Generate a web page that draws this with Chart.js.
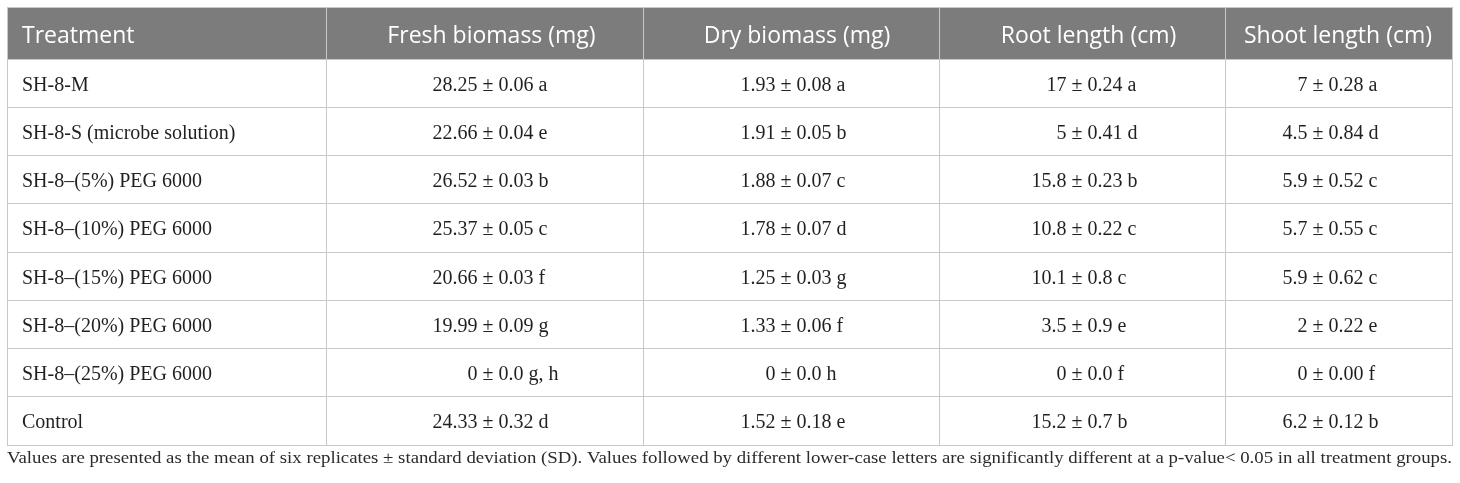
<!DOCTYPE html>
<html lang="en">
<head>
<meta charset="UTF-8">
<title>Effect of SH-8 treatments on seedling growth</title>
<script src="https://cdn.jsdelivr.net/npm/chart.js@4"></script>
<style>
  html, body { margin: 0; padding: 0; background: #fff; }
  #wrap { width: 1460px; height: 483px; }
</style>
</head>
<body>
<div id="wrap"><canvas id="tbl"></canvas></div>
<script>
// table contents
const headers = ['Treatment', 'Fresh biomass (mg)', 'Dry biomass (mg)', 'Root length (cm)', 'Shoot length (cm)'];
const treatments = ['SH-8-M', 'SH-8-S (microbe solution)', 'SH-8\u2013(5%) PEG 6000', 'SH-8\u2013(10%) PEG 6000',
                    'SH-8\u2013(15%) PEG 6000', 'SH-8\u2013(20%) PEG 6000', 'SH-8\u2013(25%) PEG 6000', 'Control'];

const freshMean = ['28.25', '22.66', '26.52', '25.37', '20.66', '19.99', '0', '24.33'];
const freshSD   = ['0.06', '0.04', '0.03', '0.05', '0.03', '0.09', '0.0', '0.32'];
const freshSig  = ['a', 'e', 'b', 'c', 'f', 'g', 'g, h', 'd'];

const dryMean = ['1.93', '1.91', '1.88', '1.78', '1.25', '1.33', '0', '1.52'];
const drySD   = ['0.08', '0.05', '0.07', '0.07', '0.03', '0.06', '0.0', '0.18'];
const drySig  = ['a', 'b', 'c', 'd', 'g', 'f', 'h', 'e'];

const rootMean = ['17', '5', '15.8', '10.8', '10.1', '3.5', '0', '15.2'];
const rootSD   = ['0.24', '0.41', '0.23', '0.22', '0.8', '0.9', '0.0', '0.7'];
const rootSig  = ['a', 'd', 'b', 'c', 'c', 'e', 'f', 'b'];

const shootMean = ['7', '4.5', '5.9', '5.7', '5.9', '2', '0', '6.2'];
const shootSD   = ['0.28', '0.84', '0.52', '0.55', '0.62', '0.22', '0.00', '0.12'];
const shootSig  = ['a', 'd', 'c', 'c', 'c', 'e', 'f', 'b'];

const footnote = 'Values are presented as the mean of six replicates \u00b1 standard deviation (SD). ' +
  'Values followed by different lower-case letters are significantly different at a p-value< 0.05 in all treatment groups.';

// layout in table units
const colEdges = [0, 319, 636, 932, 1218, 1445];
const headerX = [15, 484.5, 790, 1081.5, 1331];
const pmX = [481, 779, 1070, 1311];   // where the ± sign sits in each value column
const nameX = 15;
const headerH = 52, rowH = 48.25;
const rowEdges = [0, headerH].concat(treatments.map((t, i) => headerH + rowH * (i + 1)));
const rowMid = i => headerH + rowH * (i + 0.5);

const SERIF = '"Liberation Serif", "Times New Roman", serif';
const SANS = '"Open Sans", "Noto Sans", sans-serif';

const valueCols = [
  [freshMean, freshSD, freshSig],
  [dryMean, drySD, drySig],
  [rootMean, rootSD, rootSig],
  [shootMean, shootSD, shootSig]
];

const datasets = [
  { role: 'header', data: headers.map((h, i) => ({ x: headerX[i], y: headerH / 2, text: h, left: i === 0 })) },
  { role: 'name', data: treatments.map((t, i) => ({ x: nameX, y: rowMid(i), text: t })) }
].concat(valueCols.map((c, k) => ({
  role: 'value',
  data: c[0].map((m, i) => ({ x: pmX[k], y: rowMid(i), mean: m, sd: c[1][i], sig: c[2][i] }))
})));
datasets.forEach(d => { d.pointRadius = 0; d.pointHoverRadius = 0; d.showLine = false; });

const tablePlugin = {
  id: 'tableCells',
  beforeDraw(chart) {
    const { ctx, chartArea } = chart;
    const y = chart.scales.y;
    ctx.save();
    ctx.fillStyle = '#7c7c7c';
    ctx.fillRect(chartArea.left, y.getPixelForValue(0), chartArea.right - chartArea.left,
                 y.getPixelForValue(headerH) - y.getPixelForValue(0));
    ctx.restore();
  },
  afterDatasetsDraw(chart) {
    const { ctx, chartArea } = chart;
    ctx.save();
    chart.data.datasets.forEach((ds, di) => {
      const meta = chart.getDatasetMeta(di);
      meta.data.forEach((pt, j) => {
        const raw = ds.data[j];
        if (ds.role === 'header') {
          ctx.font = '23px ' + SANS;
          ctx.fillStyle = '#ffffff';
          ctx.textAlign = raw.left ? 'left' : 'center';
          ctx.textBaseline = 'alphabetic';
          ctx.fillText(raw.text, pt.x, pt.y + 10);
        } else if (ds.role === 'name') {
          ctx.font = '20px ' + SERIF;
          ctx.fillStyle = '#231f20';
          ctx.textAlign = 'left';
          ctx.textBaseline = 'alphabetic';
          ctx.fillText(raw.text, pt.x, pt.y + 7.5);
        } else {
          ctx.font = '20px ' + SERIF;
          ctx.fillStyle = '#231f20';
          ctx.textBaseline = 'alphabetic';
          const half = ctx.measureText('\u00b1').width / 2;
          const by = pt.y + 7.5;
          ctx.textAlign = 'right';
          ctx.fillText(raw.mean + ' ', pt.x - half, by);
          ctx.textAlign = 'center';
          ctx.fillText('\u00b1', pt.x, by);
          ctx.textAlign = 'left';
          ctx.fillText(' ' + raw.sd + ' ' + raw.sig, pt.x + half, by);
        }
      });
    });

    // footnote under the table, fitted to its width
    ctx.font = '16.5px ' + SERIF;
    ctx.fillStyle = '#2b2b2b';
    ctx.textAlign = 'left';
    ctx.textBaseline = 'alphabetic';
    const w = ctx.measureText(footnote).width;
    const avail = chartArea.right - chartArea.left;
    const sx = Math.min(1.15, Math.max(0.8, avail / w));
    ctx.translate(chartArea.left, chartArea.bottom + 18);
    ctx.scale(sx, 1);
    ctx.fillText(footnote, 0, 0);
    ctx.restore();
  }
};

const gridOpts = { color: '#c8c8c8', lineWidth: 1, drawTicks: false };

new Chart(document.getElementById('tbl'), {
  type: 'scatter',
  data: { datasets: datasets },
  options: {
    responsive: true,
    maintainAspectRatio: false,
    animation: false,
    events: [],
    layout: { padding: { left: 7, right: 8, top: 7, bottom: 38 } },
    plugins: { legend: { display: false }, tooltip: { enabled: false } },
    scales: {
      x: {
        type: 'linear', min: 0, max: colEdges[colEdges.length - 1],
        afterBuildTicks: s => { s.ticks = colEdges.map(v => ({ value: v })); },
        grid: gridOpts,
        border: { display: true, color: '#c8c8c8' },
        ticks: { display: false }
      },
      y: {
        type: 'linear', reverse: true, min: 0, max: rowEdges[rowEdges.length - 1],
        afterBuildTicks: s => { s.ticks = rowEdges.map(v => ({ value: v })); },
        grid: gridOpts,
        border: { display: true, color: '#c8c8c8' },
        ticks: { display: false }
      }
    }
  },
  plugins: [tablePlugin]
});
</script>
</body>
</html>
